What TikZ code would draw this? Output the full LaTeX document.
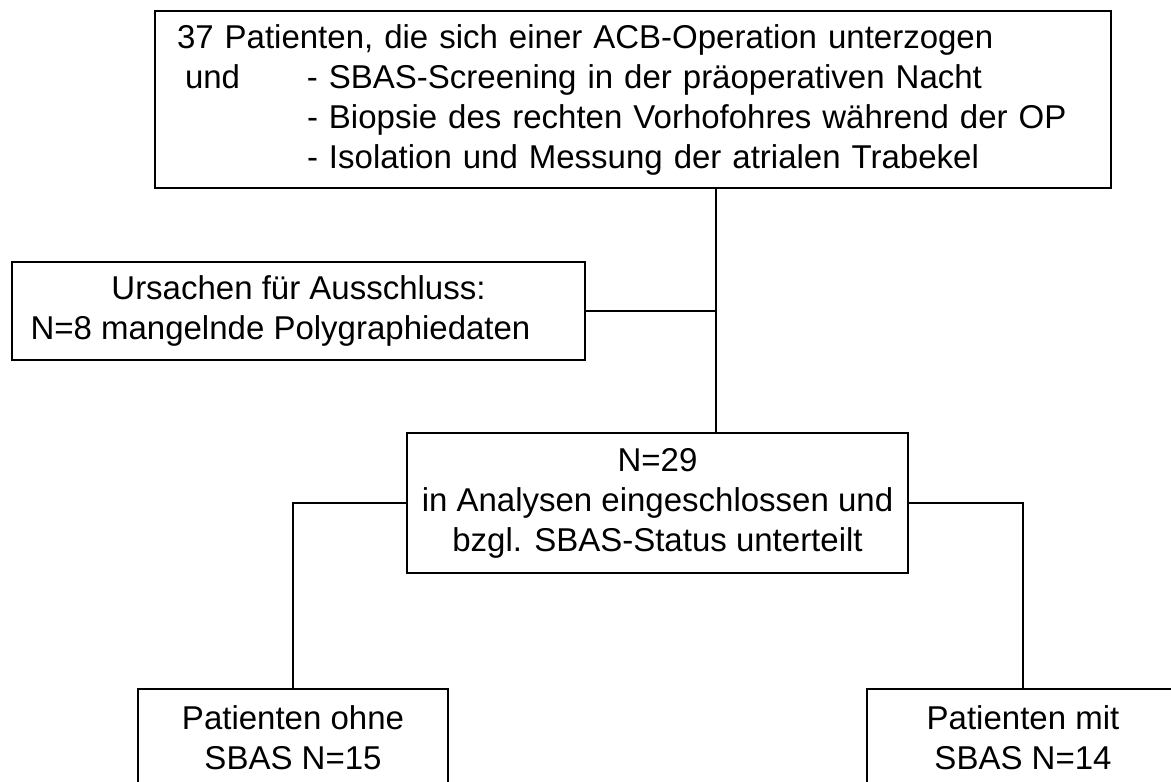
\documentclass[tikz,border=0pt]{standalone}
\usepackage{fontspec}
\setmainfont{Liberation Sans}
\usetikzlibrary{positioning,calc}

\tikzset{
  box/.style={draw, line width=2.2pt, inner sep=0pt, align=center,
    font=\fontsize{33}{40}\selectfont},
  link/.style={line width=1.2pt},
}

\begin{document}
\begin{tikzpicture}[x=1pt,y=-1pt]
  %%%%% START %%%%%
  \useasboundingbox (0,0) rectangle (1171,782);
  \clip (0,0) rectangle (1171,782);

  % study population
  \node[box, minimum width=956pt, minimum height=177pt, text width=912pt,
    inner xsep=22pt, align=left] (cohort) at (633,99.5) {%
    37 Patienten, die sich einer ACB-Operation unterzogen\\
    \hspace*{8pt}\makebox[122pt][l]{und}- SBAS-Screening in der pr\"aoperativen Nacht\\
    \hspace*{130pt}- Biopsie des rechten Vorhofohres w\"ahrend der OP\\
    \hspace*{130pt}- Isolation und Messung der atrialen Trabekel};

  % exclusion
  \node[box, minimum width=573pt, minimum height=98pt] (excl) at (298.5,311)
    {Ursachen f\"ur Ausschluss:\\\hspace*{-36pt}N=8 mangelnde Polygraphiedaten};

  % included
  \node[box, minimum width=501pt, minimum height=140pt] (incl) at (657.5,503)
    {N=29\\in Analysen eingeschlossen und\\bzgl. SBAS-Status unterteilt};

  % groups
  \node[box, minimum width=310pt, minimum height=98pt] (nosbas) at (293,738)
    {Patienten ohne\\SBAS N=15};
  \node[box, minimum width=312pt, minimum height=98pt] (sbas) at (1023,738)
    {Patienten mit\\SBAS N=14};

  \coordinate (trunk) at (716,0);

  \draw[link] (trunk |- cohort.south) -- (trunk |- incl.north);
  \draw[link] (excl.east) -- (excl.east -| trunk);
  \draw[link] (incl.west) -| (nosbas.north);
  \draw[link] (incl.east) -| (sbas.north);

  %%%%% END %%%%%
\end{tikzpicture}
\end{document}
